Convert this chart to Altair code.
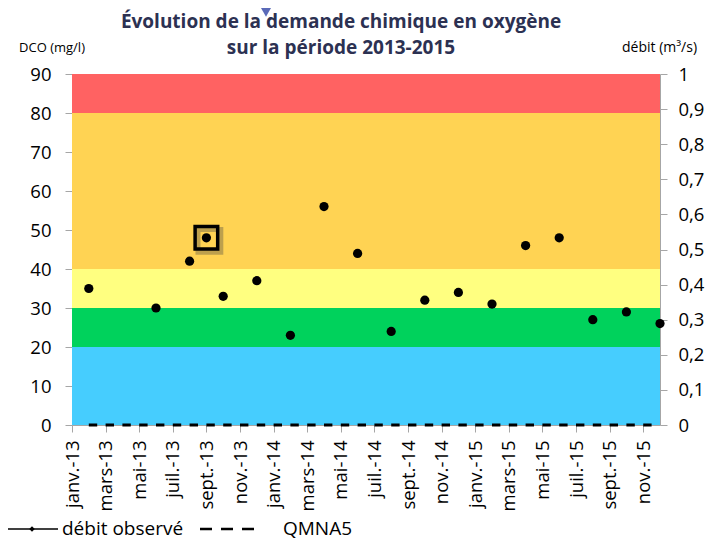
import altair as alt
import pandas as pd

# ---------------- data ----------------
months = ["2013-02", "2013-06", "2013-08", "2013-09", "2013-10", "2013-12",
          "2014-02", "2014-04", "2014-06", "2014-08", "2014-10", "2014-12",
          "2015-02", "2015-04", "2015-06", "2015-08", "2015-10", "2015-12"]
dco = [35, 30, 42, 48, 33, 37, 23, 56, 44, 24, 32, 34, 31, 46, 48, 27, 29, 26]
highlight_month = "2013-09"
qmna5 = [0.0] * len(months)

band_low = [0, 20, 30, 40, 80]
band_high = [20, 30, 40, 80, 90]
band_colors = ["#46CDFE", "#00D25C", "#FFFF80", "#FFD353", "#FF6262"]

tick_labels = ["janv.-13", "mars-13", "mai-13", "juil.-13", "sept.-13", "nov.-13",
               "janv.-14", "mars-14", "mai-14", "juil.-14", "sept.-14", "nov.-14",
               "janv.-15", "mars-15", "mai-15", "juil.-15", "sept.-15", "nov.-15"]
y_ticks = list(range(0, 100, 10))
y2_ticks = [i / 10 for i in range(11)]

title_lines = ["Évolution de la demande chimique en oxygène", "sur la période 2013-2015"]

# ---------------- layout ----------------
W, H = 588, 351
FONT = "Open Sans"
GRAY = "#A6A6A6"


def month_index(m):
    y, mo = m.split("-")
    return (int(y) - 2013) * 12 + int(mo) - 1


df = pd.DataFrame({"m": [month_index(m) for m in months], "dco": dco, "q": qmna5})
hl = df[df["m"] == month_index(highlight_month)]
bands = pd.DataFrame({"lo": band_low, "hi": band_high, "c": band_colors})
one = pd.DataFrame({"a": [0]})

x_dom = [0, 35]
label_arr = "[" + ",".join("'" + t + "'" for t in tick_labels) + "]"
x_enc = alt.X("m:Q", scale=alt.Scale(domain=x_dom, nice=False, zero=False),
              axis=alt.Axis(values=list(range(0, 36, 2)), labelExpr=label_arr + "[round(datum.value/2)]",
                            labelAngle=270, labelFontSize=18.5, labelPadding=8, tickSize=7,
                            domainColor=GRAY, tickColor=GRAY, labelColor="black",
                            labelFont=FONT, grid=False, title=None))
y_scale = alt.Scale(domain=[0, 90], nice=False, zero=True)
y_axis = alt.Axis(values=y_ticks, labelFontSize=18.5, labelPadding=14, tickSize=7,
                  domainColor=GRAY, tickColor=GRAY, labelColor="black", labelFont=FONT,
                  grid=False, title=None)

band_layer = alt.Chart(bands).mark_rect().encode(
    x=alt.value(0), x2=alt.value(W),
    y=alt.Y("lo:Q", scale=y_scale, axis=y_axis),
    y2="hi:Q",
    color=alt.Color("c:N", scale=None),
)

pts = alt.Chart(df).mark_circle(size=85, color="black", opacity=1).encode(
    x=x_enc, y=alt.Y("dco:Q", scale=y_scale, axis=y_axis)
)

shadow = alt.Chart(hl).mark_point(shape="square", size=520, filled=False, stroke="#444444",
                                  strokeWidth=5, opacity=0.35, xOffset=3, yOffset=3).encode(
    x=x_enc, y=alt.Y("dco:Q", scale=y_scale, axis=y_axis)
)
box = alt.Chart(hl).mark_point(shape="square", size=510, filled=False, stroke="black",
                               strokeWidth=3.5, opacity=1).encode(
    x=x_enc, y=alt.Y("dco:Q", scale=y_scale, axis=y_axis)
)

title1 = alt.Chart(one).mark_text(text=title_lines[0], font=FONT, fontSize=19, fontWeight="bold",
                                  color="#2C3152", align="center", baseline="alphabetic").encode(
    x=alt.value(269), y=alt.value(-46))
title2 = alt.Chart(one).mark_text(text=title_lines[1], font=FONT, fontSize=19, fontWeight="bold",
                                  color="#2C3152", align="center", baseline="alphabetic").encode(
    x=alt.value(269), y=alt.value(-20))
ytitle_l = alt.Chart(one).mark_text(text="DCO (mg/l)", font=FONT, fontSize=13, color="black",
                                    align="center", baseline="alphabetic").encode(
    x=alt.value(-20), y=alt.value(-22))
ytitle_r = alt.Chart(one).mark_text(text="débit (m³/s)", font=FONT, fontSize=14, color="black",
                                    align="left", baseline="alphabetic").encode(
    x=alt.value(550), y=alt.value(-22))
marker = alt.Chart(one).mark_point(shape="triangle-down", size=170, filled=True, color="#5B6AB8",
                                   opacity=1).encode(x=alt.value(194), y=alt.value(-63))

# legend
LY = 455
leg_line = alt.Chart(one).mark_rule(color="black", strokeWidth=1.5).encode(
    x=alt.value(-64), x2=alt.value(-14), y=alt.value(LY))
leg_dia = alt.Chart(one).mark_point(shape="diamond", size=30, filled=True, color="black", opacity=1).encode(
    x=alt.value(-40), y=alt.value(LY))
leg_t1 = alt.Chart(one).mark_text(text="débit observé", font=FONT, fontSize=19, color="black",
                                  align="left", baseline="middle").encode(x=alt.value(-10), y=alt.value(LY))
leg_dash = alt.Chart(one).mark_rule(color="black", strokeWidth=2.5, strokeDash=[12, 9]).encode(
    x=alt.value(128), x2=alt.value(190), y=alt.value(LY))
leg_t2 = alt.Chart(one).mark_text(text="QMNA5", font=FONT, fontSize=19, color="black",
                                  align="left", baseline="middle").encode(x=alt.value(211), y=alt.value(LY))

left = alt.layer(band_layer, pts, shadow, box, title1, title2, ytitle_l, ytitle_r, marker,
                 leg_line, leg_dia, leg_t1, leg_dash, leg_t2)

right = alt.Chart(df).mark_line(color="black", strokeWidth=3, strokeDash=[8.4, 8.4]).encode(
    x=x_enc,
    y=alt.Y("q:Q", scale=alt.Scale(domain=[0, 1], nice=False, zero=True),
            axis=alt.Axis(orient="right", values=y2_ticks,
                          labelExpr="replace(format(datum.value, '.1~f'), '.', ',')",
                          labelFontSize=18.5, labelPadding=11, tickSize=7,
                          domainColor=GRAY, tickColor=GRAY, labelColor="black", labelFont=FONT,
                          grid=False, title=None)),
)

chart = alt.layer(left, right).resolve_scale(y="independent").properties(
    width=W, height=H,
    autosize=alt.AutoSizeParams(type="none"),
    padding={"left": 64, "top": 66, "right": 50, "bottom": 118},
).configure_view(stroke=None).configure(background="white")

chart.save("out.html", embed_options={"renderer": "svg", "actions": False})
